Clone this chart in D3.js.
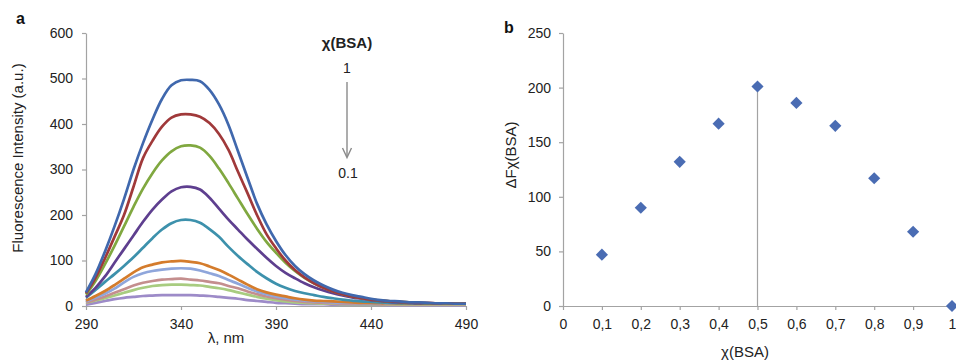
<!DOCTYPE html>
<html>
<head>
<meta charset="utf-8">
<script src="https://cdn.jsdelivr.net/npm/d3@7"></script>
<style>
  html, body { margin: 0; padding: 0; background: #fff; }
  svg { display: block; font-family: "Liberation Sans", Arial, sans-serif; }
  .axis path, .axis line { stroke: #a3a3a3; stroke-width: 1.2; }
  .axis text { fill: #222; font-size: 14px; font-family: "Liberation Sans", Arial, sans-serif; }
</style>
</head>
<body>
<svg id="chart" width="956" height="360"></svg>
<script>
// ---- Panel a: fluorescence spectra ----
const wavelengths = [290,295,300,305,310,315,320,325,330,335,340,345,350,355,360,365,370,375,380,385,390,395,400,405,410,415,420,425,430,435,440,445,450,455,460,465,470,475,480,485,490];

const seriesNames = ["1","0.9","0.8","0.7","0.6","0.5","0.4","0.3","0.2","0.1"];
const seriesColors = ["#4068ad","#a0393a","#80a840","#5e3f8f","#3d91ac","#d47c2c","#8fa6db","#c48e8e","#a8cc80","#9d8bc8"];

const s1  = [30,70,120,175,235,300,358,410,455,485,496,497,494,475,443,398,340,282,225,180,143,112,88,70,56,45,36,29,24,20,16,13,11,10,8,8,7,6,6,5,5];
const s2  = [28,62,105,152,200,262,325,363,394,414,421,421,416,402,378,343,295,248,200,158,127,100,79,63,50,40,32,26,21,17,14,12,10,9,8,7,7,6,6,5,5];
const s3  = [25,55,92,132,175,218,258,292,320,340,351,353,348,330,302,270,236,202,170,141,117,95,77,62,50,40,32,26,21,17,14,12,10,9,8,7,6,6,5,5,5];
const s4  = [20,40,65,95,125,155,185,212,234,252,261,262,256,238,214,190,168,146,126,106,88,73,61,50,41,34,28,23,19,16,13,11,9,8,7,6,6,5,5,5,5];
const s5  = [18,35,53,70,88,107,128,149,168,182,189,189,183,169,152,130,110,92,75,61,49,40,33,28,24,20,17,14,12,10,9,8,7,6,6,5,5,5,5,5,5];
const s6  = [12,22,33,46,60,74,85,91,96,98,99,97,94,87,79,69,58,47,37,30,25,21,17,14,12,11,10,9,8,7,7,6,6,5,5,5,5,5,5,5,5];
const s7  = [10,18,27,38,52,64,72,77,80,82,83,82,78,72,66,57,49,40,32,26,21,17,14,12,10,9,8,7,7,6,6,5,5,5,5,5,5,5,5,5,5];
const s8  = [8,14,21,29,37,45,51,55,58,59,60,58,56,53,50,44,39,32,26,21,17,14,11,9,8,7,6,5,5,5,5,4,4,4,4,4,4,4,4,4,4];
const s9  = [7,12,17,23,29,35,40,44,46,47,47,46,45,42,39,35,30,25,20,16,13,10,8,7,6,5,5,4,4,4,4,4,3,3,3,3,3,3,3,3,3];
const s10 = [3,7,11,15,18,20,22,23,24,24,24,24,23,22,20,18,16,13,11,9,7,6,5,4,4,4,3,3,3,3,3,3,2,2,2,2,2,2,2,2,2];
const spectra = [s1,s2,s3,s4,s5,s6,s7,s8,s9,s10];

const xTicksA = [290,340,390,440,490];
const yTicksA = [0,100,200,300,400,500,600];

// ---- Panel b: Job plot ----
const fractions = [0.1,0.2,0.3,0.4,0.5,0.6,0.7,0.8,0.9,1.0];
const deltaF    = [47,90,132,167,201,186,165,117,68,0];
const xTicksB = [0,0.1,0.2,0.3,0.4,0.5,0.6,0.7,0.8,0.9,1];
const yTicksB = [0,50,100,150,200,250];
const maxFraction = 0.5;

const svg = d3.select("#chart");

// ===== Panel a =====
const A = {left: 86, right: 466, top: 33, bottom: 306};
const xA = d3.scaleLinear().domain([290,490]).range([A.left, A.right]);
const yA = d3.scaleLinear().domain([0,600]).range([A.bottom, A.top]);

svg.append("g").attr("class","axis")
  .attr("transform",`translate(0,${A.bottom})`)
  .call(d3.axisBottom(xA).tickValues(xTicksA).tickSize(4).tickPadding(6).tickSizeOuter(0))
  .selectAll("text").attr("dy","0.95em");
svg.append("g").attr("class","axis")
  .attr("transform",`translate(${A.left},0)`)
  .call(d3.axisLeft(yA).tickValues(yTicksA).tickSize(4).tickPadding(9).tickSizeOuter(0));

const line = d3.line()
  .x((d,i) => xA(wavelengths[i]))
  .y(d => yA(d))
  .curve(d3.curveCatmullRom.alpha(0.5));

const order = d3.range(spectra.length).reverse();
svg.append("g").selectAll("path")
  .data(order)
  .join("path")
  .attr("d", i => line(spectra[i]))
  .attr("fill","none")
  .attr("stroke", i => seriesColors[i])
  .attr("stroke-width", 2.7)
  .attr("stroke-linejoin","round");

// panel letter
svg.append("text").attr("x",16).attr("y",24)
  .attr("font-size",16).attr("font-weight","bold").attr("fill","#111").text("a");

// axis titles
svg.append("text")
  .attr("transform",`translate(23,158) rotate(-90)`)
  .attr("text-anchor","middle").attr("font-size",15).attr("fill","#222")
  .text("Fluorescence Intensity (a.u.)");
svg.append("text").attr("x",226).attr("y",343)
  .attr("text-anchor","middle").attr("font-size",15).attr("fill","#222")
  .text("λ, nm");

// legend annotation
svg.append("text").attr("x",347).attr("y",48)
  .attr("text-anchor","middle").attr("font-size",15).attr("font-weight","bold").attr("fill","#222")
  .text("χ(BSA)");
svg.append("text").attr("x",347).attr("y",73)
  .attr("text-anchor","middle").attr("font-size",14).attr("fill","#222")
  .text(seriesNames[0]);
svg.append("text").attr("x",348).attr("y",178)
  .attr("text-anchor","middle").attr("font-size",14).attr("fill","#222")
  .text(seriesNames[seriesNames.length-1]);
svg.append("line").attr("x1",347).attr("x2",347).attr("y1",82).attr("y2",157)
  .attr("stroke","#8a8a8a").attr("stroke-width",1.4);
svg.append("path").attr("d","M342.5,148 L347,157.5 L351.5,148")
  .attr("fill","none").attr("stroke","#8a8a8a").attr("stroke-width",1.4);

// ===== Panel b =====
const B = {left: 563, right: 952, top: 33, bottom: 306};
const xB = d3.scaleLinear().domain([0,1]).range([B.left, B.right]);
const yB = d3.scaleLinear().domain([0,250]).range([B.bottom, B.top]);
const fmtB = d => d === 0 ? "0" : d === 1 ? "1" : d3.format(".1f")(d).replace(".", ",");

svg.append("g").attr("class","axis")
  .attr("transform",`translate(0,${B.bottom})`)
  .call(d3.axisBottom(xB).tickValues(xTicksB).tickFormat(fmtB).tickSize(4).tickPadding(6).tickSizeOuter(0))
  .selectAll("text").attr("dy","0.95em");
svg.append("g").attr("class","axis")
  .attr("transform",`translate(${B.left},0)`)
  .call(d3.axisLeft(yB).tickValues(yTicksB).tickSize(4).tickPadding(8).tickSizeOuter(0));

// vertical line at maximum
const iMax = fractions.indexOf(maxFraction);
svg.append("line")
  .attr("x1", xB(maxFraction)).attr("x2", xB(maxFraction))
  .attr("y1", yB(0)).attr("y2", yB(deltaF[iMax]))
  .attr("stroke","#a3a3a3").attr("stroke-width",1.2);

const diamond = d3.symbol().type(d3.symbolSquare).size(74);
svg.append("g").selectAll("path")
  .data(fractions)
  .join("path")
  .attr("d", diamond)
  .attr("transform", (d,i) => `translate(${xB(d)},${yB(deltaF[i])}) rotate(45)`)
  .attr("fill","#4a6cb3");

svg.append("text").attr("x",504).attr("y",33)
  .attr("font-size",16).attr("font-weight","bold").attr("fill","#111").text("b");

svg.append("text")
  .attr("transform",`translate(516,155) rotate(-90)`)
  .attr("text-anchor","middle").attr("font-size",15).attr("fill","#222")
  .text("ΔFχ(BSA)");
svg.append("text").attr("x",745).attr("y",357)
  .attr("text-anchor","middle").attr("font-size",15).attr("fill","#222")
  .text("χ(BSA)");
</script>
</body>
</html>
